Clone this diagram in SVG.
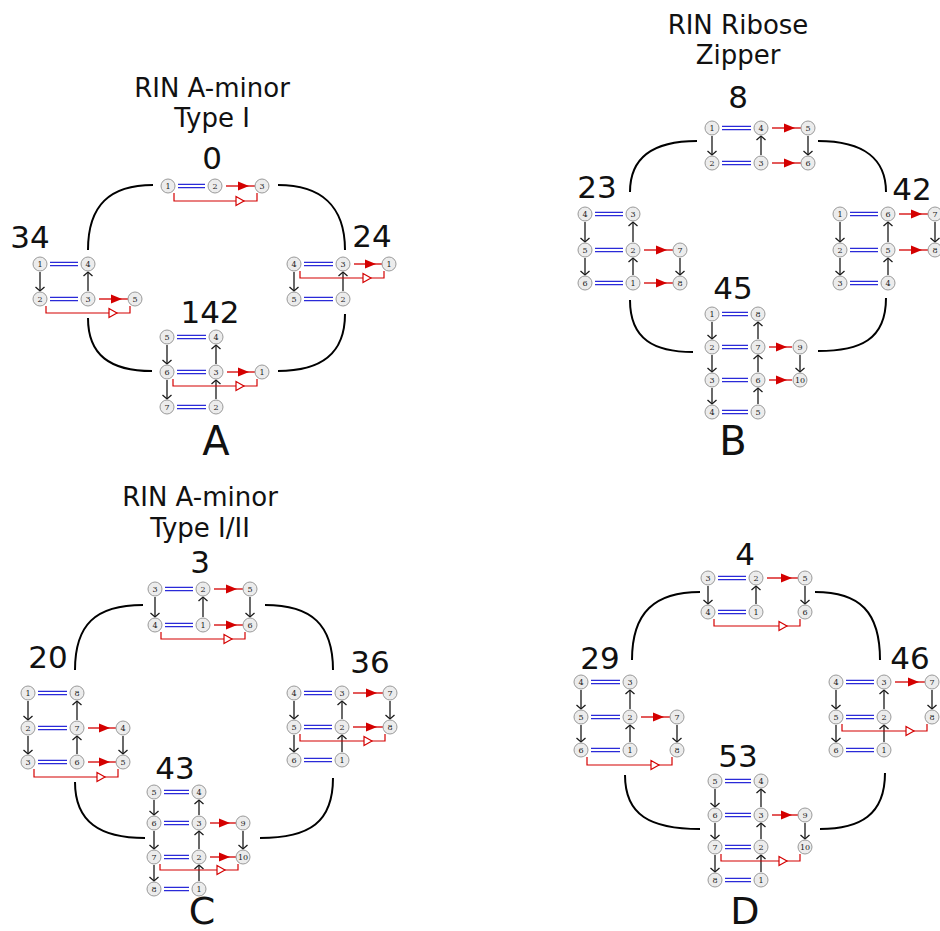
<svg xmlns="http://www.w3.org/2000/svg" xmlns:xlink="http://www.w3.org/1999/xlink" width="940" height="931" viewBox="0 0 940 931">
<style>
.n circle{fill:#ececec;stroke:#9a9a9a;stroke-width:1}
.n text{font-family:"DejaVu Serif","Liberation Serif",serif;font-size:8px;text-anchor:middle;fill:#222}
.k{stroke:#1a1a1a;stroke-width:1.3;fill:none;marker-end:url(#ah)}
.r{stroke:#d40000;stroke-width:1.3;fill:none}
.b{stroke:#2a2ad8;stroke-width:1.2;fill:none}
.br{stroke:#d40000;stroke-width:1.2;fill:none}
.c{stroke:#000;stroke-width:2;fill:none}
.t{font-family:"DejaVu Sans","Liberation Sans",sans-serif;fill:#111;text-anchor:middle}
.ti{font-size:26px}
.nm{font-size:31px}
.lt{font-size:40px}
.lb{font-size:38px}
</style>
<defs>
<marker id="ah" markerUnits="userSpaceOnUse" viewBox="-6 -6 8 12" markerWidth="8" markerHeight="12" refX="0" refY="0" orient="auto">
<path d="M-4,-4.5 L0,0 L-4,4.5" fill="none" stroke="#1a1a1a" stroke-width="1.3"/>
</marker>
<path id="rt" d="M-11,-4.5 L0,0 L-11,4.5 Z" fill="#d40000"/>
<path id="ot" d="M-8,-4.5 L0,0 L-8,4.5 Z" fill="#fff" stroke="#d40000" stroke-width="1.2"/>
</defs>

<g id="texts">
<text class="t ti" x="212" y="97">RIN A-minor</text>
<text class="t ti" x="212" y="127">Type I</text>
<text class="t nm" x="212" y="169">0</text>
<text class="t nm" x="30" y="248">34</text>
<text class="t nm" x="372" y="247">24</text>
<text class="t nm" x="210" y="323">142</text>
<text class="t lt" x="216" y="455">A</text>
<text class="t ti" x="738" y="34">RIN Ribose</text>
<text class="t ti" x="738" y="64">Zipper</text>
<text class="t nm" x="738" y="108">8</text>
<text class="t nm" x="597" y="198">23</text>
<text class="t nm" x="912" y="200">42</text>
<text class="t nm" x="733" y="299">45</text>
<text class="t lt" x="733" y="455">B</text>
<text class="t ti" x="200" y="506">RIN A-minor</text>
<text class="t ti" x="200" y="537">Type I/II</text>
<text class="t nm" x="200" y="573">3</text>
<text class="t nm" x="48" y="668">20</text>
<text class="t nm" x="370" y="673">36</text>
<text class="t nm" x="175" y="779">43</text>
<text class="t lb" x="202" y="924">C</text>
<text class="t nm" x="745" y="565">4</text>
<text class="t nm" x="600" y="669">29</text>
<text class="t nm" x="910" y="669">46</text>
<text class="t nm" x="738" y="767">53</text>
<text class="t lb" x="745" y="924">D</text>
</g>

<g id="connectors">
<path class="c" d="M153,185 C110,185 88,205 88,250"/>
<path class="c" d="M278,185 C320,185 345,205 345,250"/>
<path class="c" d="M88,318 C88,355 110,371 152,371"/>
<path class="c" d="M345,314 C345,355 320,371 278,371"/>
<path class="c" d="M697,141 C650,141 630,160 630,192"/>
<path class="c" d="M818,141 C865,141 886,160 886,192"/>
<path class="c" d="M630,300 C630,340 655,352 693,352"/>
<path class="c" d="M886,298 C886,340 860,351 818,351"/>
<path class="c" d="M143,605 C95,605 75,625 75,670"/>
<path class="c" d="M265,605 C312,605 333,625 333,670"/>
<path class="c" d="M75,782 C75,822 100,838 145,838"/>
<path class="c" d="M333,778 C333,822 310,838 260,838"/>
<path class="c" d="M700,592 C655,592 632,612 632,660"/>
<path class="c" d="M815,592 C860,592 880,612 880,660"/>
<path class="c" d="M625,775 C625,815 650,829 700,829"/>
<path class="c" d="M885,773 C885,815 860,829 820,829"/>

<path class="b" d="M178,184.4H205M178,187.6H205"/>
<path class="r" d="M226,186H255"/><use xlink:href="#rt" x="249" y="186"/>
<path class="br" d="M174,193V201H257V193"/><use xlink:href="#ot" x="244" y="201"/>
<path class="k" d="M40,272V291"/><path class="k" d="M88,291V272"/>
<path class="b" d="M50,262.4H78M50,265.6H78"/>
<path class="b" d="M50,297.4H78M50,300.6H78"/>
<path class="r" d="M99,299H128"/><use xlink:href="#rt" x="122" y="299"/>
<path class="br" d="M46,306V313H130V306"/><use xlink:href="#ot" x="117" y="313"/>
<path class="k" d="M294,272V291"/><path class="k" d="M343,291V272"/>
<path class="b" d="M304,262.4H333M304,265.6H333"/>
<path class="b" d="M304,297.4H333M304,300.6H333"/>
<path class="r" d="M354,264H382"/><use xlink:href="#rt" x="376" y="264"/>
<path class="br" d="M300,271V278H384V271"/><use xlink:href="#ot" x="371" y="278"/>
<path class="k" d="M167,345V364"/><path class="k" d="M167,380V399"/>
<path class="k" d="M216,364V345"/><path class="k" d="M216,399V380"/>
<path class="b" d="M177,335.4H206M177,338.6H206"/>
<path class="b" d="M177,370.4H206M177,373.6H206"/>
<path class="b" d="M177,405.4H206M177,408.6H206"/>
<path class="r" d="M227,372H255"/><use xlink:href="#rt" x="249" y="372"/>
<path class="br" d="M173,379V386H257V379"/><use xlink:href="#ot" x="244" y="386"/>

<path class="k" d="M712,136V155"/><path class="k" d="M761,155V136"/><path class="k" d="M808,136V155"/>
<path class="b" d="M722,126.4H751M722,129.6H751"/>
<path class="b" d="M722,161.4H751M722,164.6H751"/>
<path class="r" d="M772,128H801"/><use xlink:href="#rt" x="795" y="128"/>
<path class="r" d="M772,163H801"/><use xlink:href="#rt" x="795" y="163"/>
<path class="k" d="M585,222V242"/><path class="k" d="M585,258V275"/>
<path class="k" d="M633,275V258"/><path class="k" d="M633,242V222"/>
<path class="k" d="M680,258V275"/>
<path class="b" d="M595,212.4H623M595,215.6H623"/>
<path class="b" d="M595,248.4H623M595,251.6H623"/>
<path class="b" d="M595,281.4H623M595,284.6H623"/>
<path class="r" d="M644,250H673"/><use xlink:href="#rt" x="667" y="250"/>
<path class="r" d="M644,283H673"/><use xlink:href="#rt" x="667" y="283"/>
<path class="k" d="M840,222V242"/><path class="k" d="M840,258V275"/>
<path class="k" d="M888,275V258"/><path class="k" d="M888,242V222"/>
<path class="k" d="M935,222V242"/>
<path class="b" d="M850,212.4H878M850,215.6H878"/>
<path class="b" d="M850,248.4H878M850,251.6H878"/>
<path class="b" d="M850,281.4H878M850,284.6H878"/>
<path class="r" d="M899,214H928"/><use xlink:href="#rt" x="922" y="214"/>
<path class="r" d="M899,250H928"/><use xlink:href="#rt" x="922" y="250"/>
<path class="k" d="M712,322V339"/><path class="k" d="M712,355V372"/><path class="k" d="M712,388V404"/>
<path class="k" d="M758,404V388"/><path class="k" d="M758,372V355"/><path class="k" d="M758,339V322"/>
<path class="k" d="M800,355V372"/>
<path class="b" d="M722,312.4H748M722,315.6H748"/>
<path class="b" d="M722,345.4H748M722,348.6H748"/>
<path class="b" d="M722,378.4H748M722,381.6H748"/>
<path class="b" d="M722,410.4H748M722,413.6H748"/>
<path class="r" d="M769,347H792"/><use xlink:href="#rt" x="787" y="347"/>
<path class="r" d="M769,380H792"/><use xlink:href="#rt" x="787" y="380"/>

<path class="k" d="M155,597V617"/><path class="k" d="M203,617V597"/><path class="k" d="M250,597V617"/>
<path class="b" d="M165,587.4H193M165,590.6H193"/>
<path class="b" d="M165,623.4H193M165,626.6H193"/>
<path class="r" d="M214,589H243"/><use xlink:href="#rt" x="237" y="589"/>
<path class="r" d="M214,625H243"/><use xlink:href="#rt" x="237" y="625"/>
<path class="br" d="M161,632V639H245V632"/><use xlink:href="#ot" x="232" y="639"/>
<path class="k" d="M28,701V720"/><path class="k" d="M28,736V754"/>
<path class="k" d="M77,754V736"/><path class="k" d="M77,720V701"/>
<path class="k" d="M123,736V754"/>
<path class="b" d="M38,691.4H67M38,694.6H67"/>
<path class="b" d="M38,726.4H67M38,729.6H67"/>
<path class="b" d="M38,760.4H67M38,763.6H67"/>
<path class="r" d="M88,728H116"/><use xlink:href="#rt" x="110" y="728"/>
<path class="r" d="M88,762H116"/><use xlink:href="#rt" x="110" y="762"/>
<path class="br" d="M34,769V777H118V769"/><use xlink:href="#ot" x="105" y="777"/>
<path class="k" d="M294,701V719"/><path class="k" d="M294,735V752"/>
<path class="k" d="M342,752V735"/><path class="k" d="M342,719V701"/>
<path class="k" d="M390,701V719"/>
<path class="b" d="M304,691.4H332M304,694.6H332"/>
<path class="b" d="M304,725.4H332M304,728.6H332"/>
<path class="b" d="M304,758.4H332M304,761.6H332"/>
<path class="r" d="M353,693H383"/><use xlink:href="#rt" x="377" y="693"/>
<path class="r" d="M353,727H383"/><use xlink:href="#rt" x="377" y="727"/>
<path class="br" d="M300,734V741H385V734"/><use xlink:href="#ot" x="372" y="741"/>
<path class="k" d="M154,800V815"/><path class="k" d="M154,831V849"/><path class="k" d="M154,865V881"/>
<path class="k" d="M199,881V865"/><path class="k" d="M199,849V831"/><path class="k" d="M199,815V800"/>
<path class="k" d="M243,831V849"/>
<path class="b" d="M164,790.4H189M164,793.6H189"/>
<path class="b" d="M164,821.4H189M164,824.6H189"/>
<path class="b" d="M164,855.4H189M164,858.6H189"/>
<path class="b" d="M164,887.4H189M164,890.6H189"/>
<path class="r" d="M210,823H236"/><use xlink:href="#rt" x="230" y="823"/>
<path class="r" d="M210,857H236"/><use xlink:href="#rt" x="230" y="857"/>
<path class="br" d="M160,864V870H238V864"/><use xlink:href="#ot" x="225" y="870"/>

<path class="k" d="M708,586V604"/><path class="k" d="M756,604V586"/><path class="k" d="M805,586V604"/>
<path class="b" d="M718,576.4H746M718,579.6H746"/>
<path class="b" d="M718,610.4H746M718,613.6H746"/>
<path class="r" d="M767,578H798"/><use xlink:href="#rt" x="792" y="578"/>
<path class="br" d="M714,619V626H800V619"/><use xlink:href="#ot" x="787" y="626"/>
<path class="k" d="M581,690V709"/><path class="k" d="M581,725V742"/>
<path class="k" d="M630,742V725"/><path class="k" d="M630,709V690"/>
<path class="k" d="M677,725V742"/>
<path class="b" d="M591,680.4H620M591,683.6H620"/>
<path class="b" d="M591,715.4H620M591,718.6H620"/>
<path class="b" d="M591,748.4H620M591,751.6H620"/>
<path class="r" d="M641,717H670"/><use xlink:href="#rt" x="664" y="717"/>
<path class="br" d="M587,757V765H672V757"/><use xlink:href="#ot" x="659" y="765"/>
<path class="k" d="M836,690V709"/><path class="k" d="M836,725V742"/>
<path class="k" d="M884,742V725"/><path class="k" d="M884,709V690"/>
<path class="k" d="M932,690V709"/>
<path class="b" d="M846,680.4H874M846,683.6H874"/>
<path class="b" d="M846,715.4H874M846,718.6H874"/>
<path class="b" d="M846,748.4H874M846,751.6H874"/>
<path class="r" d="M895,682H925"/><use xlink:href="#rt" x="919" y="682"/>
<path class="br" d="M842,724V731H927V724"/><use xlink:href="#ot" x="914" y="731"/>
<path class="k" d="M715,789V807"/><path class="k" d="M715,823V839"/><path class="k" d="M715,855V872"/>
<path class="k" d="M761,872V855"/><path class="k" d="M761,839V823"/><path class="k" d="M761,807V789"/>
<path class="k" d="M805,823V839"/>
<path class="b" d="M725,779.4H751M725,782.6H751"/>
<path class="b" d="M725,813.4H751M725,816.6H751"/>
<path class="b" d="M725,845.4H751M725,848.6H751"/>
<path class="b" d="M725,878.4H751M725,881.6H751"/>
<path class="r" d="M772,815H798"/><use xlink:href="#rt" x="792" y="815"/>
<path class="br" d="M721,854V861H800V854"/><use xlink:href="#ot" x="787" y="861"/>
</g>

<g id="nodes">
<g id="A0">
<g id="A0-1" class="n"><circle cx="168" cy="186" r="7"/><text x="168" y="188.8">1</text></g>
<g id="A0-2" class="n"><circle cx="215" cy="186" r="7"/><text x="215" y="188.8">2</text></g>
<g id="A0-3" class="n"><circle cx="262" cy="186" r="7"/><text x="262" y="188.8">3</text></g>
</g>
<g id="A34">
<g id="A34-1" class="n"><circle cx="40" cy="264" r="7"/><text x="40" y="266.8">1</text></g>
<g id="A34-4" class="n"><circle cx="88" cy="264" r="7"/><text x="88" y="266.8">4</text></g>
<g id="A34-2" class="n"><circle cx="40" cy="299" r="7"/><text x="40" y="301.8">2</text></g>
<g id="A34-3" class="n"><circle cx="88" cy="299" r="7"/><text x="88" y="301.8">3</text></g>
<g id="A34-5" class="n"><circle cx="135" cy="299" r="7"/><text x="135" y="301.8">5</text></g>
</g>
<g id="A24">
<g id="A24-4" class="n"><circle cx="294" cy="264" r="7"/><text x="294" y="266.8">4</text></g>
<g id="A24-3" class="n"><circle cx="343" cy="264" r="7"/><text x="343" y="266.8">3</text></g>
<g id="A24-1" class="n"><circle cx="389" cy="264" r="7"/><text x="389" y="266.8">1</text></g>
<g id="A24-5" class="n"><circle cx="294" cy="299" r="7"/><text x="294" y="301.8">5</text></g>
<g id="A24-2" class="n"><circle cx="343" cy="299" r="7"/><text x="343" y="301.8">2</text></g>
</g>
<g id="A142">
<g id="A142-5" class="n"><circle cx="167" cy="337" r="7"/><text x="167" y="339.8">5</text></g>
<g id="A142-4" class="n"><circle cx="216" cy="337" r="7"/><text x="216" y="339.8">4</text></g>
<g id="A142-6" class="n"><circle cx="167" cy="372" r="7"/><text x="167" y="374.8">6</text></g>
<g id="A142-3" class="n"><circle cx="216" cy="372" r="7"/><text x="216" y="374.8">3</text></g>
<g id="A142-1" class="n"><circle cx="262" cy="372" r="7"/><text x="262" y="374.8">1</text></g>
<g id="A142-7" class="n"><circle cx="167" cy="407" r="7"/><text x="167" y="409.8">7</text></g>
<g id="A142-2" class="n"><circle cx="216" cy="407" r="7"/><text x="216" y="409.8">2</text></g>
</g>
<g id="B8">
<g id="B8-1" class="n"><circle cx="712" cy="128" r="7"/><text x="712" y="130.8">1</text></g>
<g id="B8-4" class="n"><circle cx="761" cy="128" r="7"/><text x="761" y="130.8">4</text></g>
<g id="B8-5" class="n"><circle cx="808" cy="128" r="7"/><text x="808" y="130.8">5</text></g>
<g id="B8-2" class="n"><circle cx="712" cy="163" r="7"/><text x="712" y="165.8">2</text></g>
<g id="B8-3" class="n"><circle cx="761" cy="163" r="7"/><text x="761" y="165.8">3</text></g>
<g id="B8-6" class="n"><circle cx="808" cy="163" r="7"/><text x="808" y="165.8">6</text></g>
</g>
<g id="B23">
<g id="B23-4" class="n"><circle cx="585" cy="214" r="7"/><text x="585" y="216.8">4</text></g>
<g id="B23-3" class="n"><circle cx="633" cy="214" r="7"/><text x="633" y="216.8">3</text></g>
<g id="B23-5" class="n"><circle cx="585" cy="250" r="7"/><text x="585" y="252.8">5</text></g>
<g id="B23-2" class="n"><circle cx="633" cy="250" r="7"/><text x="633" y="252.8">2</text></g>
<g id="B23-7" class="n"><circle cx="680" cy="250" r="7"/><text x="680" y="252.8">7</text></g>
<g id="B23-6" class="n"><circle cx="585" cy="283" r="7"/><text x="585" y="285.8">6</text></g>
<g id="B23-1" class="n"><circle cx="633" cy="283" r="7"/><text x="633" y="285.8">1</text></g>
<g id="B23-8" class="n"><circle cx="680" cy="283" r="7"/><text x="680" y="285.8">8</text></g>
</g>
<g id="B42">
<g id="B42-1" class="n"><circle cx="840" cy="214" r="7"/><text x="840" y="216.8">1</text></g>
<g id="B42-6" class="n"><circle cx="888" cy="214" r="7"/><text x="888" y="216.8">6</text></g>
<g id="B42-7" class="n"><circle cx="935" cy="214" r="7"/><text x="935" y="216.8">7</text></g>
<g id="B42-2" class="n"><circle cx="840" cy="250" r="7"/><text x="840" y="252.8">2</text></g>
<g id="B42-5" class="n"><circle cx="888" cy="250" r="7"/><text x="888" y="252.8">5</text></g>
<g id="B42-8" class="n"><circle cx="935" cy="250" r="7"/><text x="935" y="252.8">8</text></g>
<g id="B42-3" class="n"><circle cx="840" cy="283" r="7"/><text x="840" y="285.8">3</text></g>
<g id="B42-4" class="n"><circle cx="888" cy="283" r="7"/><text x="888" y="285.8">4</text></g>
</g>
<g id="B45">
<g id="B45-1" class="n"><circle cx="712" cy="314" r="7"/><text x="712" y="316.8">1</text></g>
<g id="B45-8" class="n"><circle cx="758" cy="314" r="7"/><text x="758" y="316.8">8</text></g>
<g id="B45-2" class="n"><circle cx="712" cy="347" r="7"/><text x="712" y="349.8">2</text></g>
<g id="B45-7" class="n"><circle cx="758" cy="347" r="7"/><text x="758" y="349.8">7</text></g>
<g id="B45-9" class="n"><circle cx="800" cy="347" r="7"/><text x="800" y="349.8">9</text></g>
<g id="B45-3" class="n"><circle cx="712" cy="380" r="7"/><text x="712" y="382.8">3</text></g>
<g id="B45-6" class="n"><circle cx="758" cy="380" r="7"/><text x="758" y="382.8">6</text></g>
<g id="B45-10" class="n"><circle cx="800" cy="380" r="7"/><text x="800" y="382.8">10</text></g>
<g id="B45-4" class="n"><circle cx="712" cy="412" r="7"/><text x="712" y="414.8">4</text></g>
<g id="B45-5" class="n"><circle cx="758" cy="412" r="7"/><text x="758" y="414.8">5</text></g>
</g>
<g id="C3">
<g id="C3-3" class="n"><circle cx="155" cy="589" r="7"/><text x="155" y="591.8">3</text></g>
<g id="C3-2" class="n"><circle cx="203" cy="589" r="7"/><text x="203" y="591.8">2</text></g>
<g id="C3-5" class="n"><circle cx="250" cy="589" r="7"/><text x="250" y="591.8">5</text></g>
<g id="C3-4" class="n"><circle cx="155" cy="625" r="7"/><text x="155" y="627.8">4</text></g>
<g id="C3-1" class="n"><circle cx="203" cy="625" r="7"/><text x="203" y="627.8">1</text></g>
<g id="C3-6" class="n"><circle cx="250" cy="625" r="7"/><text x="250" y="627.8">6</text></g>
</g>
<g id="C20">
<g id="C20-1" class="n"><circle cx="28" cy="693" r="7"/><text x="28" y="695.8">1</text></g>
<g id="C20-8" class="n"><circle cx="77" cy="693" r="7"/><text x="77" y="695.8">8</text></g>
<g id="C20-2" class="n"><circle cx="28" cy="728" r="7"/><text x="28" y="730.8">2</text></g>
<g id="C20-7" class="n"><circle cx="77" cy="728" r="7"/><text x="77" y="730.8">7</text></g>
<g id="C20-4" class="n"><circle cx="123" cy="728" r="7"/><text x="123" y="730.8">4</text></g>
<g id="C20-3" class="n"><circle cx="28" cy="762" r="7"/><text x="28" y="764.8">3</text></g>
<g id="C20-6" class="n"><circle cx="77" cy="762" r="7"/><text x="77" y="764.8">6</text></g>
<g id="C20-5" class="n"><circle cx="123" cy="762" r="7"/><text x="123" y="764.8">5</text></g>
</g>
<g id="C36">
<g id="C36-4" class="n"><circle cx="294" cy="693" r="7"/><text x="294" y="695.8">4</text></g>
<g id="C36-3" class="n"><circle cx="342" cy="693" r="7"/><text x="342" y="695.8">3</text></g>
<g id="C36-7" class="n"><circle cx="390" cy="693" r="7"/><text x="390" y="695.8">7</text></g>
<g id="C36-5" class="n"><circle cx="294" cy="727" r="7"/><text x="294" y="729.8">5</text></g>
<g id="C36-2" class="n"><circle cx="342" cy="727" r="7"/><text x="342" y="729.8">2</text></g>
<g id="C36-8" class="n"><circle cx="390" cy="727" r="7"/><text x="390" y="729.8">8</text></g>
<g id="C36-6" class="n"><circle cx="294" cy="760" r="7"/><text x="294" y="762.8">6</text></g>
<g id="C36-1" class="n"><circle cx="342" cy="760" r="7"/><text x="342" y="762.8">1</text></g>
</g>
<g id="C43">
<g id="C43-5" class="n"><circle cx="154" cy="792" r="7"/><text x="154" y="794.8">5</text></g>
<g id="C43-4" class="n"><circle cx="199" cy="792" r="7"/><text x="199" y="794.8">4</text></g>
<g id="C43-6" class="n"><circle cx="154" cy="823" r="7"/><text x="154" y="825.8">6</text></g>
<g id="C43-3" class="n"><circle cx="199" cy="823" r="7"/><text x="199" y="825.8">3</text></g>
<g id="C43-9" class="n"><circle cx="243" cy="823" r="7"/><text x="243" y="825.8">9</text></g>
<g id="C43-7" class="n"><circle cx="154" cy="857" r="7"/><text x="154" y="859.8">7</text></g>
<g id="C43-2" class="n"><circle cx="199" cy="857" r="7"/><text x="199" y="859.8">2</text></g>
<g id="C43-10" class="n"><circle cx="243" cy="857" r="7"/><text x="243" y="859.8">10</text></g>
<g id="C43-8" class="n"><circle cx="154" cy="889" r="7"/><text x="154" y="891.8">8</text></g>
<g id="C43-1" class="n"><circle cx="199" cy="889" r="7"/><text x="199" y="891.8">1</text></g>
</g>
<g id="D4">
<g id="D4-3" class="n"><circle cx="708" cy="578" r="7"/><text x="708" y="580.8">3</text></g>
<g id="D4-2" class="n"><circle cx="756" cy="578" r="7"/><text x="756" y="580.8">2</text></g>
<g id="D4-5" class="n"><circle cx="805" cy="578" r="7"/><text x="805" y="580.8">5</text></g>
<g id="D4-4" class="n"><circle cx="708" cy="612" r="7"/><text x="708" y="614.8">4</text></g>
<g id="D4-1" class="n"><circle cx="756" cy="612" r="7"/><text x="756" y="614.8">1</text></g>
<g id="D4-6" class="n"><circle cx="805" cy="612" r="7"/><text x="805" y="614.8">6</text></g>
</g>
<g id="D29">
<g id="D29-4" class="n"><circle cx="581" cy="682" r="7"/><text x="581" y="684.8">4</text></g>
<g id="D29-3" class="n"><circle cx="630" cy="682" r="7"/><text x="630" y="684.8">3</text></g>
<g id="D29-5" class="n"><circle cx="581" cy="717" r="7"/><text x="581" y="719.8">5</text></g>
<g id="D29-2" class="n"><circle cx="630" cy="717" r="7"/><text x="630" y="719.8">2</text></g>
<g id="D29-7" class="n"><circle cx="677" cy="717" r="7"/><text x="677" y="719.8">7</text></g>
<g id="D29-6" class="n"><circle cx="581" cy="750" r="7"/><text x="581" y="752.8">6</text></g>
<g id="D29-1" class="n"><circle cx="630" cy="750" r="7"/><text x="630" y="752.8">1</text></g>
<g id="D29-8" class="n"><circle cx="677" cy="750" r="7"/><text x="677" y="752.8">8</text></g>
</g>
<g id="D46">
<g id="D46-4" class="n"><circle cx="836" cy="682" r="7"/><text x="836" y="684.8">4</text></g>
<g id="D46-3" class="n"><circle cx="884" cy="682" r="7"/><text x="884" y="684.8">3</text></g>
<g id="D46-7" class="n"><circle cx="932" cy="682" r="7"/><text x="932" y="684.8">7</text></g>
<g id="D46-5" class="n"><circle cx="836" cy="717" r="7"/><text x="836" y="719.8">5</text></g>
<g id="D46-2" class="n"><circle cx="884" cy="717" r="7"/><text x="884" y="719.8">2</text></g>
<g id="D46-8" class="n"><circle cx="932" cy="717" r="7"/><text x="932" y="719.8">8</text></g>
<g id="D46-6" class="n"><circle cx="836" cy="750" r="7"/><text x="836" y="752.8">6</text></g>
<g id="D46-1" class="n"><circle cx="884" cy="750" r="7"/><text x="884" y="752.8">1</text></g>
</g>
<g id="D53">
<g id="D53-5" class="n"><circle cx="715" cy="781" r="7"/><text x="715" y="783.8">5</text></g>
<g id="D53-4" class="n"><circle cx="761" cy="781" r="7"/><text x="761" y="783.8">4</text></g>
<g id="D53-6" class="n"><circle cx="715" cy="815" r="7"/><text x="715" y="817.8">6</text></g>
<g id="D53-3" class="n"><circle cx="761" cy="815" r="7"/><text x="761" y="817.8">3</text></g>
<g id="D53-9" class="n"><circle cx="805" cy="815" r="7"/><text x="805" y="817.8">9</text></g>
<g id="D53-7" class="n"><circle cx="715" cy="847" r="7"/><text x="715" y="849.8">7</text></g>
<g id="D53-2" class="n"><circle cx="761" cy="847" r="7"/><text x="761" y="849.8">2</text></g>
<g id="D53-10" class="n"><circle cx="805" cy="847" r="7"/><text x="805" y="849.8">10</text></g>
<g id="D53-8" class="n"><circle cx="715" cy="880" r="7"/><text x="715" y="882.8">8</text></g>
<g id="D53-1" class="n"><circle cx="761" cy="880" r="7"/><text x="761" y="882.8">1</text></g>
</g>
</g>
</svg>
